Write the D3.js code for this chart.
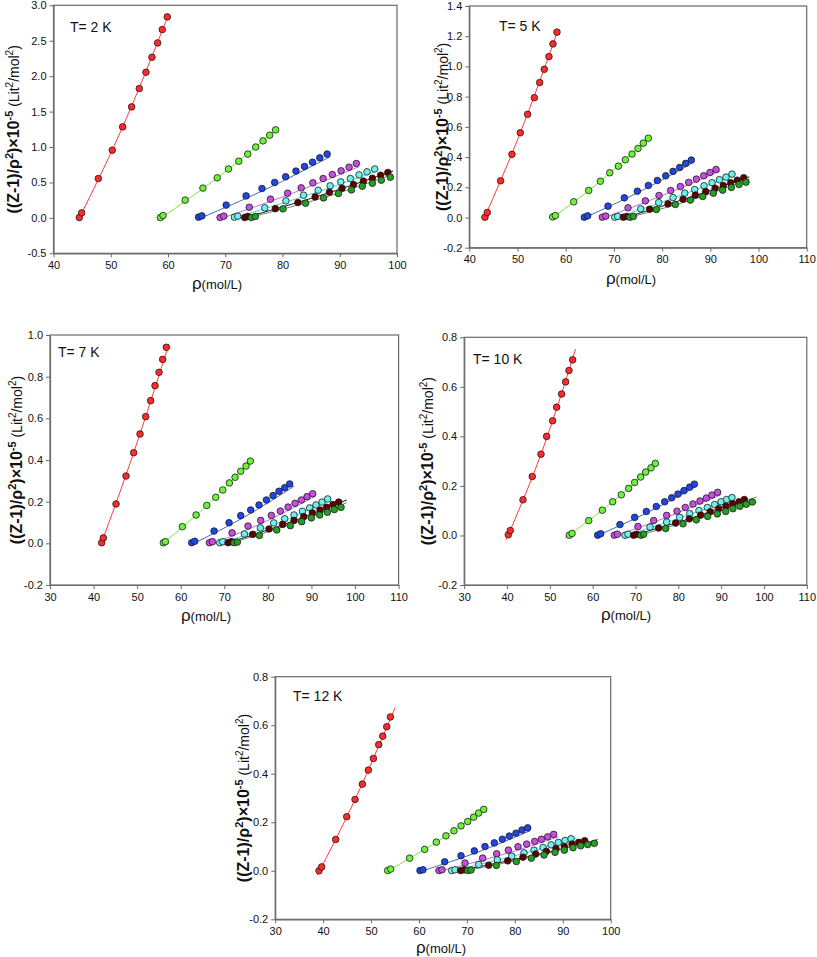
<!DOCTYPE html>
<html><head><meta charset="utf-8">
<script src="https://cdn.jsdelivr.net/npm/d3@7"></script>
<style>body{margin:0;background:#fff}svg{display:block}text{font-family:Arial,"Liberation Sans",sans-serif}</style>
</head><body><svg id="c" width="817" height="957"></svg>
<script>
// ---------- tick values ----------
const xTicks2K = [40,50,60,70,80,90,100];
const yTicks2K = [-0.5,0,0.5,1.0,1.5,2.0,2.5,3.0];
const xTicks5K = [40,50,60,70,80,90,100,110];
const yTicks5K = [-0.2,0,0.2,0.4,0.6,0.8,1.0,1.2,1.4];
const xTicks7K = [30,40,50,60,70,80,90,100,110];
const yTicks7K = [-0.2,0,0.2,0.4,0.6,0.8,1.0];
const xTicks10K = [30,40,50,60,70,80,90,100,110];
const yTicks10K = [-0.2,0,0.2,0.4,0.6,0.8];
const xTicks12K = [30,40,50,60,70,80,90,100];
const yTicks12K = [-0.2,0,0.2,0.4,0.6,0.8];
const panelTitles = ["T= 2 K","T= 5 K","T= 7 K","T= 10 K","T= 12 K"];

// ---------- T = 2 K ----------
const t2Red = [[44.51,0.005],[44.92,0.07],[47.83,0.555],[50.27,0.955],[52.08,1.284],[53.65,1.566],[54.99,1.825],[56.15,2.055],[57.2,2.267],[58.19,2.469],[59.0,2.657],[59.88,2.836]];
const t2RedFit = [[44.28,-0.04],[52.08,1.284],[60.05,2.86]];
const t2Lime = [[58.67,0.005],[59.13,0.033],[63.0,0.25],[66.1,0.42],[68.6,0.565],[70.56,0.69],[72.36,0.80],[73.93,0.90],[75.32,1.0],[76.6,1.087],[77.76,1.167],[78.8,1.242]];
const t2LimeFit = [[58.1,-0.04],[68.6,0.565],[78.8,1.242]];
const t2Blue = [[65.34,0.01],[65.92,0.028],[70.16,0.18],[73.64,0.31],[76.42,0.414],[78.63,0.50],[80.55,0.58],[82.35,0.66],[83.85,0.725],[85.25,0.786],[86.52,0.847],[87.8,0.90]];
const t2BlueFit = [[65.9,0.005],[77,0.40],[88.26,0.861]];
const t2Purple = [[69.1,0.005],[69.75,0.024],[74.2,0.15],[77.9,0.264],[80.9,0.348],[83.27,0.424],[85.3,0.494],[87.1,0.555],[88.7,0.612],[90.24,0.664],[91.63,0.715],[92.9,0.767]];
const t2PurpleFit = [[69.87,0.01],[81,0.325],[93.3,0.72]];
const t2Cyan = [[71.6,0.01],[72.19,0.024],[76.9,0.141],[80.6,0.24],[83.68,0.32],[86.23,0.39],[88.32,0.452],[90.18,0.508],[91.86,0.555],[93.37,0.607],[94.76,0.65],[96.1,0.69]];
const t2CyanFit = [[71.7,0.005],[84,0.31],[96.56,0.663]];
const t2Maroon = [[73.4,0.005],[73.93,0.02],[78.75,0.13],[82.7,0.216],[85.7,0.296],[88.2,0.362],[90.4,0.419],[92.4,0.47],[94.13,0.518],[95.7,0.56],[97.14,0.602],[98.4,0.64]];
const t2MaroonFit = [[73.46,0.005],[86,0.30],[99.3,0.66]];
const t2Green = [[74.57,0.005],[75.26,0.02],[80.08,0.127],[84.03,0.207],[87.16,0.282],[89.77,0.344],[92.04,0.395],[93.95,0.447],[95.7,0.489],[97.26,0.532],[98.83,0.574]];
const t2GreenFit = [[74.6,0.014],[87,0.28],[99.3,0.616]];

// ---------- T = 5 K ----------
const t5Red = [[43.25,0.002],[43.73,0.033],[46.5,0.243],[48.85,0.418],[50.58,0.561],[52.1,0.683],[53.49,0.793],[54.6,0.893],[55.56,0.981],[56.53,1.065],[57.36,1.149],[58.19,1.227]];
const t5RedFit = [[42.9,-0.018],[50.58,0.561],[58.4,1.24]];
const t5Lime = [[57.3,0.004],[57.86,0.013],[61.66,0.104],[64.77,0.179],[67.19,0.24],[69.13,0.296],[70.93,0.34],[72.38,0.382],[73.76,0.42],[75.0,0.457],[76.1,0.492],[77.15,0.525]];
const t5LimeFit = [[56.9,-0.01],[67.19,0.24],[77.15,0.525]];
const t5Blue = [[63.87,0.002],[64.56,0.011],[68.78,0.075],[72.17,0.13],[74.87,0.174],[77.15,0.212],[79.02,0.245],[80.75,0.276],[82.27,0.305],[83.65,0.331],[84.9,0.358],[86.07,0.38]];
const t5BlueFit = [[63.1,-0.013],[75,0.165],[86.14,0.358]];
const t5Purple = [[67.6,0.002],[68.3,0.009],[72.93,0.064],[76.53,0.11],[79.36,0.146],[81.78,0.179],[83.79,0.205],[85.52,0.232],[87.11,0.254],[88.63,0.276],[89.94,0.298],[91.19,0.318]];
const t5PurpleFit = [[67.1,-0.013],[80,0.145],[92.0,0.307]];
const t5Cyan = [[70.17,0.002],[70.79,0.007],[75.56,0.057],[79.29,0.099],[82.27,0.132],[84.69,0.161],[86.76,0.185],[88.7,0.21],[90.36,0.23],[91.88,0.25],[93.26,0.267],[94.5,0.287]];
const t5CyanFit = [[69.75,-0.01],[82,0.125],[94.8,0.28]];
const t5Maroon = [[71.96,0.002],[72.66,0.007],[77.43,0.055],[81.23,0.09],[84.34,0.121],[86.9,0.148],[89.05,0.172],[91.0,0.194],[92.7,0.212],[94.23,0.23],[95.6,0.247],[96.93,0.263]];
const t5MaroonFit = [[71.6,-0.007],[85,0.125],[98.1,0.27]];
const t5Green = [[73.35,0.002],[74.04,0.007],[78.81,0.053],[82.75,0.086],[85.86,0.115],[88.42,0.139],[90.64,0.161],[92.57,0.181],[94.37,0.199],[95.96,0.218],[97.41,0.234]];
const t5GreenFit = [[73,0],[86,0.115],[98.1,0.256]];

// ---------- T = 7 K ----------
const t7Red = [[41.86,0.003],[42.24,0.026],[45.15,0.189],[47.44,0.323],[49.2,0.435],[50.66,0.525],[51.96,0.608],[53.1,0.685],[54.1,0.757],[55.02,0.821],[55.86,0.883],[56.7,0.941]];
const t7RedFit = [[41.55,-0.013],[49.2,0.435],[57.3,0.957]];
const t7Lime = [[56.02,0.003],[56.48,0.008],[60.38,0.08],[63.52,0.136],[65.97,0.182],[68.03,0.221],[69.64,0.256],[71.17,0.29],[72.47,0.317],[73.77,0.346],[74.99,0.371],[75.98,0.395]];
const t7LimeFit = [[55.26,-0.013],[65.97,0.182],[75.98,0.395]];
const t7Blue = [[62.52,0.003],[63.21,0.01],[67.65,0.059],[71.09,0.099],[73.77,0.133],[76.06,0.16],[77.97,0.184],[79.66,0.208],[81.19,0.229],[82.56,0.25],[83.86,0.267],[85.01,0.285]];
const t7BlueFit = [[63.3,0.003],[74.5,0.125],[86.08,0.275]];
const t7Purple = [[66.58,0.003],[67.27,0.008],[71.78,0.05],[75.45,0.083],[78.36,0.11],[80.8,0.134],[82.87,0.155],[84.63,0.174],[86.23,0.192],[87.69,0.208],[88.99,0.224],[90.29,0.238]];
const t7PurpleFit = [[67.9,0.003],[79.5,0.105],[90.98,0.227]];
const t7Cyan = [[68.95,0.003],[69.64,0.008],[74.61,0.045],[78.28,0.074],[81.34,0.098],[83.86,0.118],[86.0,0.136],[87.92,0.154],[89.6,0.17],[91.05,0.184],[92.43,0.198],[93.73,0.213]];
const t7CyanFit = [[69.8,0.003],[82,0.095],[94.26,0.208]];
const t7Maroon = [[70.86,0.003],[71.63,0.008],[76.52,0.043],[80.27,0.069],[83.4,0.091],[86.0,0.11],[88.22,0.128],[90.21,0.146],[91.97,0.16],[93.5,0.173],[94.95,0.186],[96.25,0.198]];
const t7MaroonFit = [[71.3,0.005],[84.5,0.097],[98.1,0.208]];
const t7Green = [[72.24,0.003],[73.0,0.006],[78.05,0.038],[82.03,0.064],[85.16,0.085],[87.76,0.104],[89.98,0.122],[91.89,0.136],[93.65,0.149],[95.26,0.162],[96.79,0.173]];
const t7GreenFit = [[72.1,0.005],[85,0.09],[98.1,0.195]];

// ---------- T = 10 K ----------
const t10Red = [[40.3,0.003],[40.77,0.02],[43.73,0.144],[45.9,0.238],[47.93,0.328],[49.25,0.4],[50.65,0.463],[51.59,0.518],[52.75,0.571],[53.69,0.62],[54.47,0.666],[55.32,0.709]];
const t10RedFit = [[39.76,-0.018],[47.93,0.328],[56.0,0.752]];
const t10Lime = [[54.55,0.001],[55.18,0.008],[59.07,0.06],[62.26,0.102],[64.67,0.136],[66.69,0.164],[68.4,0.19],[69.8,0.214],[71.2,0.236],[72.37,0.256],[73.62,0.273],[74.63,0.291]];
const t10LimeFit = [[53.54,-0.01],[64.67,0.136],[74.63,0.291]];
const t10Blue = [[61.17,0.001],[61.87,0.007],[66.38,0.044],[69.8,0.073],[72.53,0.097],[74.86,0.117],[76.81,0.136],[78.44,0.152],[79.92,0.167],[81.32,0.181],[82.65,0.195],[83.74,0.207]];
const t10BlueFit = [[61.2,0],[72.5,0.09],[83.9,0.195]];
const t10Purple = [[65.06,0.001],[65.76,0.005],[70.58,0.036],[74.24,0.06],[77.28,0.081],[79.69,0.098],[81.63,0.113],[83.42,0.127],[85.06,0.139],[86.54,0.151],[87.86,0.163],[89.18,0.174]];
const t10PurpleFit = [[65.6,0],[77.5,0.075],[89.9,0.164]];
const t10Cyan = [[67.55,0.001],[68.25,0.005],[73.39,0.034],[77.28,0.054],[80.31,0.073],[82.65,0.088],[84.82,0.101],[86.77,0.113],[88.48,0.125],[89.96,0.136],[91.28,0.145],[92.53,0.153]];
const t10CyanFit = [[67.55,0],[80.3,0.07],[93.2,0.151]];
const t10Maroon = [[69.57,0.001],[70.27,0.005],[75.4,0.03],[79.38,0.05],[82.57,0.067],[85.21,0.082],[87.47,0.096],[89.42,0.108],[91.13,0.118],[92.68,0.128],[94.16,0.136],[95.41,0.145]];
const t10MaroonFit = [[69.1,0],[82.3,0.066],[95.6,0.148]];
const t10Green = [[71.28,0.001],[71.91,0.005],[77.04,0.028],[81.09,0.047],[84.2,0.063],[86.85,0.077],[89.1,0.087],[91.05,0.097],[92.76,0.108],[94.4,0.118],[95.88,0.126],[97.28,0.135]];
const t10GreenFit = [[70.66,0],[84.5,0.07],[98.3,0.156]];

// ---------- T = 12 K ----------
const t12Red = [[39.14,0.0],[39.7,0.016],[42.62,0.129],[44.92,0.223],[46.66,0.294],[48.19,0.357],[49.44,0.415],[50.49,0.463],[51.6,0.52],[52.44,0.555],[53.27,0.594],[54.04,0.634]];
const t12RedFit = [[38.8,-0.018],[46.66,0.294],[55.0,0.672]];
const t12Lime = [[53.46,0.001],[54.09,0.007],[58.05,0.052],[61.18,0.088],[63.62,0.118],[65.63,0.144],[67.3,0.165],[68.77,0.185],[70.16,0.203],[71.41,0.221],[72.45,0.238],[73.5,0.253]];
const t12LimeFit = [[52.9,-0.007],[63.62,0.118],[73.5,0.253]];
const t12Blue = [[60.21,0.001],[60.83,0.004],[65.36,0.037],[68.77,0.062],[71.55,0.082],[73.77,0.1],[75.72,0.115],[77.39,0.13],[78.85,0.143],[80.24,0.155],[81.5,0.168],[82.68,0.177]];
const t12BlueFit = [[60.9,0.001],[72,0.075],[83.2,0.165]];
const t12Purple = [[64.17,0.001],[64.8,0.004],[69.6,0.032],[73.29,0.052],[76.21,0.07],[78.64,0.085],[80.66,0.099],[82.47,0.11],[84.14,0.121],[85.53,0.13],[86.85,0.14],[88.1,0.15]];
const t12PurpleFit = [[64.7,0.001],[77,0.064],[89.1,0.14]];
const t12Cyan = [[66.82,0.001],[67.51,0.004],[72.45,0.026],[76.35,0.045],[79.34,0.06],[81.91,0.074],[84.0,0.085],[85.88,0.096],[87.55,0.107],[89.08,0.117],[90.47,0.125],[91.72,0.132]];
const t12CyanFit = [[66.5,0],[79.7,0.06],[92.9,0.136]];
const t12Maroon = [[68.7,0.001],[69.39,0.004],[74.54,0.023],[78.5,0.041],[81.7,0.056],[84.35,0.069],[86.57,0.08],[88.59,0.091],[90.33,0.1],[91.93,0.11],[93.32,0.117],[94.57,0.124]];
const t12MaroonFit = [[68.4,0.001],[82.7,0.058],[97.1,0.126]];
const t12Green = [[70.16,0.001],[70.85,0.003],[76.14,0.022],[80.31,0.038],[83.44,0.052],[86.09,0.065],[88.38,0.076],[90.33,0.085],[92.14,0.095],[93.74,0.103],[95.2,0.108],[96.59,0.113]];
const t12GreenFit = [[69.95,0.001],[83.7,0.058],[97.4,0.13]];

// ---------- styles ----------
const seriesFill = ["#ff2a2a","#6cf23a","#2046e8","#c84ce0","#6ef0ec","#5c0000","#22a022"];
const seriesLine = ["#ff3b3b","#70f03a","#4a66d0","#c070e8","#40d8d0","#1a1a1a","#6a8a6a"];

const panels = [
  {title:panelTitles[0], L:53.5, R:397, T:5.3, B:253.3, xd:[40,100], yd:[-0.5,3.0], xt:xTicks2K, yt:yTicks2K,
   pts:[t2Red,t2Lime,t2Blue,t2Purple,t2Cyan,t2Maroon,t2Green], fits:[t2RedFit,t2LimeFit,t2BlueFit,t2PurpleFit,t2CyanFit,t2MaroonFit,t2GreenFit],
   tl:[70,32], ytx:13, xtl:[217,289]},
  {title:panelTitles[1], L:469.3, R:806.7, T:6, B:247.7, xd:[40,110], yd:[-0.2,1.4], xt:xTicks5K, yt:yTicks5K,
   pts:[t5Red,t5Lime,t5Blue,t5Purple,t5Cyan,t5Maroon,t5Green], fits:[t5RedFit,t5LimeFit,t5BlueFit,t5PurpleFit,t5CyanFit,t5MaroonFit,t5GreenFit],
   tl:[499,31], ytx:442, xtl:[631,284]},
  {title:panelTitles[2], L:50, R:398.6, T:335, B:585, xd:[30,110], yd:[-0.2,1.0], xt:xTicks7K, yt:yTicks7K,
   pts:[t7Red,t7Lime,t7Blue,t7Purple,t7Cyan,t7Maroon,t7Green], fits:[t7RedFit,t7LimeFit,t7BlueFit,t7PurpleFit,t7CyanFit,t7MaroonFit,t7GreenFit],
   tl:[58,357], ytx:16, xtl:[206,621]},
  {title:panelTitles[3], L:464.2, R:806.8, T:337.3, B:585, xd:[30,110], yd:[-0.2,0.8], xt:xTicks10K, yt:yTicks10K,
   pts:[t10Red,t10Lime,t10Blue,t10Purple,t10Cyan,t10Maroon,t10Green], fits:[t10RedFit,t10LimeFit,t10BlueFit,t10PurpleFit,t10CyanFit,t10MaroonFit,t10GreenFit],
   tl:[473,364], ytx:427, xtl:[626,620]},
  {title:panelTitles[4], L:275.2, R:610.7, T:676.7, B:919.3, xd:[30,100], yd:[-0.2,0.8], xt:xTicks12K, yt:yTicks12K,
   pts:[t12Red,t12Lime,t12Blue,t12Purple,t12Cyan,t12Maroon,t12Green], fits:[t12RedFit,t12LimeFit,t12BlueFit,t12PurpleFit,t12CyanFit,t12MaroonFit,t12GreenFit],
   tl:[293,701], ytx:243, xtl:[441,953]}
];

const svg = d3.select("#c");
const axisColor = "#6a6a6a";

panels.forEach(p => {
  const x = d3.scaleLinear().domain(p.xd).range([p.L, p.R]);
  const y = d3.scaleLinear().domain(p.yd).range([p.B, p.T]);
  const g = svg.append("g");

  g.append("rect").attr("x",p.L).attr("y",p.T).attr("width",p.R-p.L).attr("height",p.B-p.T)
    .attr("fill","none").attr("stroke",axisColor).attr("stroke-width",1.2);

  const xa = g.append("g").attr("transform",`translate(0,${p.B})`)
    .call(d3.axisBottom(x).tickValues(p.xt).tickSize(4).tickSizeOuter(0).tickPadding(4).tickFormat(d3.format("d")));
  const ya = g.append("g").attr("transform",`translate(${p.L},0)`)
    .call(d3.axisLeft(y).tickValues(p.yt).tickSize(4).tickSizeOuter(0).tickPadding(3).tickFormat(d => d.toFixed(1)));
  [xa,ya].forEach(a => {
    a.select(".domain").attr("stroke",axisColor).attr("stroke-width",1.2);
    a.selectAll(".tick line").attr("stroke",axisColor);
    a.selectAll("text").attr("font-size",11).attr("fill","#111").attr("font-family","Arial, 'Liberation Sans', sans-serif");
  });

  const line = d3.line().x(d => x(d[0])).y(d => y(d[1])).curve(d3.curveNatural);
  p.fits.forEach((f,i) => {
    g.append("path").datum(f).attr("d",line).attr("fill","none")
      .attr("stroke",seriesLine[i]).attr("stroke-width",1);
  });
  p.pts.forEach((s,i) => {
    g.append("g").selectAll("circle").data(s).join("circle")
      .attr("cx",d => x(d[0])).attr("cy",d => y(d[1])).attr("r",3.3)
      .attr("fill",seriesFill[i]).attr("stroke","#1a1a1a").attr("stroke-width",0.8);
  });

  g.append("text").attr("x",p.tl[0]).attr("y",p.tl[1]).attr("font-size",14).attr("fill","#111").text(p.title);

  const xt = g.append("text").attr("x",p.xtl[0]).attr("y",p.xtl[1]).attr("text-anchor","middle").attr("fill","#111");
  xt.append("tspan").attr("font-size",17).text("ρ");
  xt.append("tspan").attr("font-size",13).text("(mol/L)");

  const cy = (p.T + p.B)/2;
  const yt = g.append("text").attr("transform",`translate(${p.ytx+6},${cy}) rotate(-90)`)
    .attr("text-anchor","middle").attr("fill","#111");
  const parts = [
    ["((Z-1)/ρ",0,"bold",16],["2",-6,"bold",11],[")×10",6,"bold",16],["-5",-6,"bold",11],
    [" (Lit",6,"normal",14],["2",-6,"normal",10],["/mol",6,"normal",14],["2",-6,"normal",10],[")",6,"normal",14]
  ];
  parts.forEach(([t,dy,w,fs]) => {
    yt.append("tspan").attr("dy",dy).attr("font-weight",w).attr("font-size",fs).text(t);
  });
});
</script></body></html>
